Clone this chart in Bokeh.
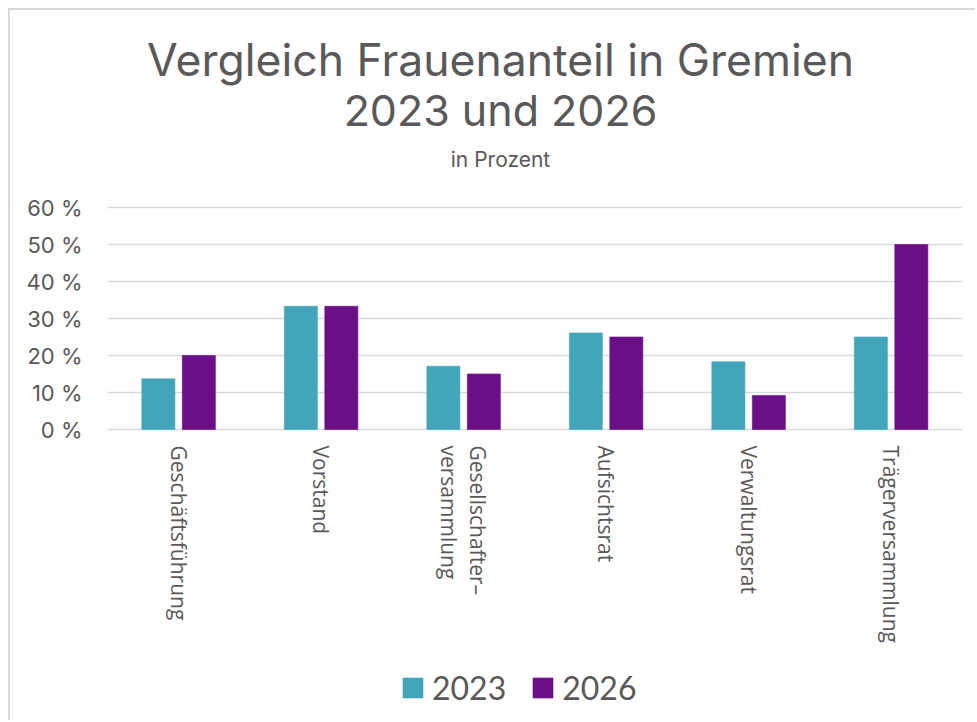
import math
from bokeh.plotting import figure
from bokeh.models import (FactorRange, Range1d, FixedTicker, PrintfTickFormatter,
                          Legend, LegendItem, Label, ColumnDataSource)
from bokeh.transform import dodge
from bokeh.core.properties import value
from bokeh.embed import file_html
from bokeh.resources import INLINE

categories = ["Geschäftsführung", "Vorstand", "Gesellschafter–\nversammlung",
              "Aufsichtsrat", "Verwaltungsrat", "Trägerversammlung"]
series_2023 = [13.7, 33.3, 17.1, 26.1, 18.3, 25.0]
series_2026 = [20.0, 33.3, 15.0, 25.0, 9.2, 50.0]
y_ticks = [0, 10, 20, 30, 40, 50, 60]
series_names = ["2023", "2026"]

title_line1 = "Vergleich Frauenanteil in Gremien"
title_line2 = "2023 und 2026"
subtitle = "in Prozent"

TEAL = "#42A5B9"
PURPLE = "#6B0F87"
TXT = "#595959"
TITLE_FONT = "Inter"
LEGEND_FONT = "Lato"

# canvas geometry (px)
W, H = 967, 712
FL, FR = 97, 15          # frame left / right borders
Y0_PX, Y60_PX = 419, 197  # canvas y of 0 % and 60 %
PX_PER_UNIT = (Y0_PX - Y60_PX) / 60.0
y_top = Y0_PX / PX_PER_UNIT
y_bottom = -(H - Y0_PX) / PX_PER_UNIT
cat_label_y = -16 / PX_PER_UNIT

src = ColumnDataSource(dict(cat=categories, v2023=series_2023, v2026=series_2026,
                            ly=[cat_label_y] * len(categories)))

p = figure(width=W, height=H, x_range=FactorRange(*categories, range_padding=0),
           y_range=Range1d(y_bottom, y_top), output_backend="svg", toolbar_location=None,
           min_border_left=FL, min_border_right=FR, min_border_top=0,
           min_border_bottom=0)
p.styles = {"border-top": "2px solid #d9d9d9", "border-left": "2px solid #d9d9d9",
            "margin-top": "8px", "margin-left": "8px"}
p.outline_line_color = None
p.background_fill_color = "white"
p.border_fill_color = "white"

r1 = p.vbar(x=dodge("cat", -0.143, range=p.x_range), top="v2023", width=0.232,
            source=src, fill_color=TEAL, line_color=TEAL, line_alpha=0.6)
r2 = p.vbar(x=dodge("cat", 0.141, range=p.x_range), top="v2026", width=0.232,
            source=src, fill_color=PURPLE, line_color=PURPLE, line_alpha=0.6)

# category labels, rotated to read top-to-bottom below the 0 % line
p.text(x="cat", y="ly", text="cat", source=src, angle=-math.pi / 2,
       text_align="left", text_baseline="middle", text_font=value("Open Sans"),
       text_font_size="21px", text_color=TXT, text_line_height=1.05)

p.xaxis.visible = False
p.xgrid.grid_line_color = None
p.ygrid.grid_line_color = "#d9d9d9"
p.ygrid.grid_line_width = 1.5
p.yaxis.ticker = FixedTicker(ticks=y_ticks)
p.yaxis.formatter = PrintfTickFormatter(format="%d %%")

ax = p.yaxis[0]
ax.axis_line_color = None
ax.major_tick_line_color = None
ax.minor_tick_line_color = None
ax.major_tick_out = 0
ax.major_tick_in = 0
ax.major_label_text_color = TXT
ax.major_label_text_font = "Inter"
ax.major_label_text_font_size = "22px"
ax.major_label_standoff = 25

def lab(text, x_canvas, y_canvas, size):
    # Label screen units: relative to the frame's bottom-left corner, y upward
    p.add_layout(Label(x=x_canvas - FL, y=H - y_canvas, x_units="screen", y_units="screen",
                       text=text, text_font=TITLE_FONT, text_font_size=size, text_color=TXT,
                       text_align="center", text_baseline="middle"))

lab(title_line1, 490, 49, "44.5px")
lab(title_line2, 490, 99, "43px")
lab(subtitle, 490, 149, "21px")

legend = Legend(items=[LegendItem(label=series_names[0], renderers=[r1]),
                       LegendItem(label=series_names[1], renderers=[r2])],
                orientation="horizontal", location=(293, 15))
legend.label_text_font = LEGEND_FONT
legend.label_text_font_size = "32px"
legend.label_text_color = TXT
legend.glyph_width = 25
legend.glyph_height = 25
legend.label_standoff = 7
legend.spacing = 24
legend.padding = 0
legend.margin = 0
legend.border_line_color = None
legend.background_fill_alpha = 0
p.add_layout(legend)

open("out.html", "w").write(file_html(p, INLINE))
